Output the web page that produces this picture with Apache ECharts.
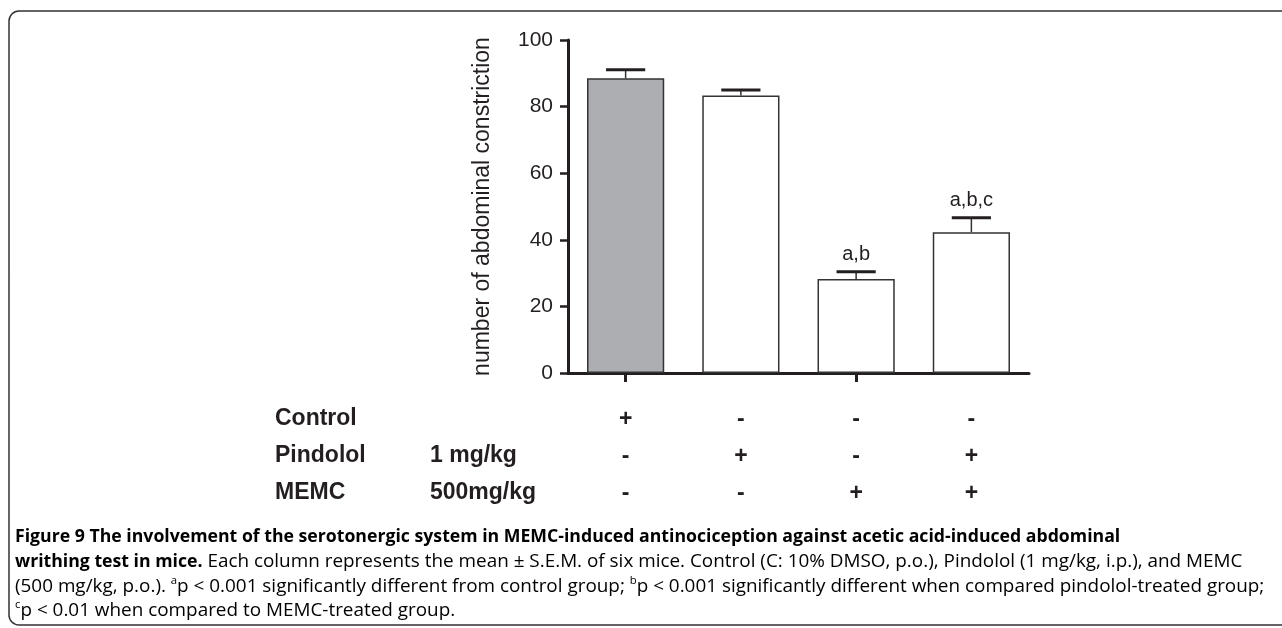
<!DOCTYPE html>
<html>
<head>
<meta charset="utf-8">
<script src="https://cdn.jsdelivr.net/npm/echarts@6/dist/echarts.min.js"></script>
<style>
html,body{margin:0;padding:0;background:#fff;}
#chart{width:1282px;height:628px;}
</style>
</head>
<body>
<div id="chart"></div>
<script>
// ---- data ----
const categories = ['Control', 'Pindolol', 'MEMC', 'Pindolol + MEMC'];
const means = [88.5, 83.3, 28.2, 42.3];
const sem = [2.6, 1.7, 2.2, 4.3];
const sigLabels = ['', '', 'a,b', 'a,b,c'];
const yTickMin = 0, yTickMax = 100, yTickStep = 20;
const controlRow = ['+', '-', '-', '-'];
const pindololRow = ['-', '+', '-', '+'];
const memcRow = ['-', '-', '+', '+'];
const rowNames = ['Control', 'Pindolol', 'MEMC'];
const rowDoses = ['', '1 mg/kg', '500mg/kg'];
const yName = 'number of abdominal constriction';

const ink = '#231f20';
const font = "'Liberation Sans', Arial, sans-serif";
const capFont = "'Open Sans', 'Noto Sans', sans-serif";

const chart = echarts.init(document.getElementById('chart'), null, {renderer: 'canvas'});

const GRID = {left: 568, top: 40, width: 461, height: 333};
const axisBase = GRID.top + GRID.height;
const rowY = [420, 457, 494];
const rowArrays = [controlRow, pindololRow, memcRow];

function rowAxis(i) {
  return {
    type: 'category', gridIndex: 0, position: 'bottom', data: categories,
    offset: rowY[i] - axisBase,
    axisLine: {show: false}, axisTick: {show: false}, splitLine: {show: false},
    axisLabel: {
      show: true, margin: 0, verticalAlign: 'middle', interval: 0,
      fontFamily: font, fontSize: 23, fontWeight: 'bold', color: ink,
      formatter: (v, idx) => rowArrays[i][idx]
    }
  };
}

const graphics = [
  {type: 'rect', silent: true, shape: {x: 9, y: 11, width: 1300, height: 614, r: 10},
   style: {fill: 'none', stroke: '#333', lineWidth: 1.5}}
];
rowNames.forEach((n, i) => {
  graphics.push({type: 'text', x: 275, y: rowY[i] - 1,
    style: {text: n, font: 'bold 23px ' + font, fill: ink, verticalAlign: 'middle'}});
  if (rowDoses[i]) graphics.push({type: 'text', x: 430, y: rowY[i] - 1,
    style: {text: rowDoses[i], font: 'bold 23px ' + font, fill: ink, verticalAlign: 'middle'}});
});

// ---- caption (sizes fitted to the reference line widths) ----
const capTokens = [
  [['b', 'Figure 9 The involvement of the serotonergic system in MEMC-induced antinociception against acetic acid-induced abdominal']],
  [['b', 'writhing test in mice.'], ['r', ' Each column represents the mean \u00b1 S.E.M. of six mice. Control (C: 10% DMSO, p.o.), Pindolol (1 mg/kg, i.p.), and MEMC']],
  [['r', '(500 mg/kg, p.o.). '], ['s', 'a'], ['r', 'p < 0.001 significantly different from control group; '], ['s', 'b'], ['r', 'p < 0.001 significantly different when compared pindolol-treated group;']],
  [['s', 'c'], ['r', 'p < 0.01 when compared to MEMC-treated group.']]
];
const mctx = document.createElement('canvas').getContext('2d');
function tw(text, weight, size) {
  mctx.font = weight + ' ' + size + 'px ' + capFont;
  return mctx.measureText(text).width;
}
const boldSize = Math.min(19, 100 * 1106 / tw(capTokens[0][0][1], 'bold', 100));
const r3 = capTokens[2].reduce((a, t) => a + (t[0] === 's' ? tw(t[1], 'normal', 60) : tw(t[1], 'normal', 100)), 0);
const regSize = Math.min(20, 100 * 1250 / r3);
const rich = {
  b: {fontFamily: capFont, fontWeight: 'bold', fontSize: boldSize, color: ink, lineHeight: 24},
  r: {fontFamily: capFont, fontSize: regSize, color: '#333', lineHeight: 24},
  s: {fontFamily: capFont, fontSize: regSize * 0.6, color: '#333', lineHeight: 24, verticalAlign: 'top'}
};
const capY = [537, 562, 587, 611];
capTokens.forEach((line, i) => {
  const text = line.map(t => '{' + t[0] + '|' + t[1] + '}').join('');
  graphics.push({type: 'text', x: 15, y: capY[i],
    style: {text: text, rich: rich, verticalAlign: 'middle'}});
});

const option = {
  animation: false,
  backgroundColor: '#fff',
  grid: GRID,
  xAxis: [
    {
      type: 'category', data: categories, boundaryGap: true,
      axisLine: {show: true, lineStyle: {color: ink, width: 3}},
      axisTick: {show: true, alignWithLabel: true, length: 9, lineStyle: {color: ink, width: 3}},
      axisLabel: {show: false}, splitLine: {show: false}
    },
    rowAxis(0), rowAxis(1), rowAxis(2)
  ],
  yAxis: {
    type: 'value', min: yTickMin, max: yTickMax, interval: yTickStep,
    name: yName, nameLocation: 'middle', nameGap: 74, nameRotate: 90,
    nameTextStyle: {fontFamily: font, fontSize: 23, color: ink},
    axisLine: {show: true, lineStyle: {color: ink, width: 3}},
    axisTick: {show: true, length: 8, lineStyle: {color: ink, width: 2.5}},
    axisLabel: {fontFamily: font, fontSize: 21, color: ink, margin: 15},
    splitLine: {show: false}
  },
  series: [
    {
      type: 'bar', barWidth: '67%',
      data: means.map((v, i) => ({value: v, itemStyle: {color: i === 0 ? '#adaeb2' : '#ffffff'}})),
      itemStyle: {borderColor: '#333', borderWidth: 1.5},
      z: 2
    },
    {
      type: 'custom', z: 3,
      data: means.map((v, i) => [i, v, sem[i]]),
      encode: {x: 0, y: 1},
      renderItem: function (params, api) {
        const idx = api.value(0), m = api.value(1), e = api.value(2);
        const base = api.coord([idx, m]);
        const top = api.coord([idx, m + e]);
        const half = api.size([1, 0])[0] * 0.17;
        const children = [
          {type: 'line', shape: {x1: base[0], y1: base[1], x2: top[0], y2: top[1]},
           style: {stroke: '#333', lineWidth: 1.5}},
          {type: 'line', shape: {x1: top[0] - half, y1: top[1], x2: top[0] + half, y2: top[1]},
           style: {stroke: ink, lineWidth: 3}}
        ];
        const lab = sigLabels[params.dataIndex];
        if (lab) children.push({type: 'text', x: top[0], y: top[1] - 17,
          style: {text: lab, font: '20px ' + font, fill: ink, align: 'center', verticalAlign: 'middle'}});
        return {type: 'group', children: children};
      }
    }
  ],
  graphic: graphics
};
chart.setOption(option);
</script>
</body>
</html>
